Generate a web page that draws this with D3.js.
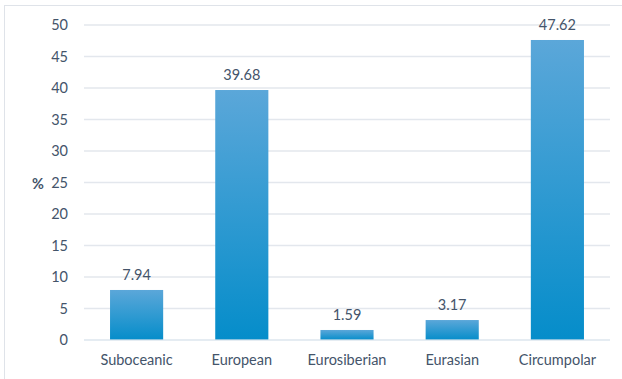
<!DOCTYPE html>
<html><head><meta charset="utf-8">
<script src="https://cdn.jsdelivr.net/npm/d3@7"></script>
<style>body{margin:0;background:#fff}svg{display:block}</style>
</head><body>
<script>
const categories = ["Suboceanic","European","Eurosiberian","Eurasian","Circumpolar"];
const values = [7.94, 39.68, 1.59, 3.17, 47.62];
const yTicks = [0,5,10,15,20,25,30,35,40,45,50];
const yTitle = "%";

const W = 622, H = 379;
const m = {left:84, right:12, top:25, bottom:39};
const svg = d3.select("body").append("svg").attr("width",W).attr("height",H);
const font = "Lato, 'Open Sans', sans-serif";
const txt = "#44546a";
const fs = 14.5;

svg.append("rect").attr("x",4.5).attr("y",5.5).attr("width",W+10).attr("height",H+10)
  .attr("fill","#fff").attr("stroke","#dfe3e9").attr("stroke-width",1);

const x = d3.scaleBand().domain(categories).range([m.left, W-m.right]).paddingInner(0.495).paddingOuter(0.2475);
const y = d3.scaleLinear().domain([0,50]).range([H-m.bottom, m.top]);

const defs = svg.append("defs");
const g = defs.append("linearGradient").attr("id","bg").attr("x1",0).attr("y1",0).attr("x2",0).attr("y2",1);
g.append("stop").attr("offset","0%").attr("stop-color","#5ba7d9");
g.append("stop").attr("offset","100%").attr("stop-color","#058dca");

// gridlines
svg.append("g").selectAll("line").data(yTicks.filter(d=>d>0)).join("line")
  .attr("x1",m.left).attr("x2",W-m.right).attr("y1",d=>y(d)).attr("y2",d=>y(d))
  .attr("stroke","#e3e7ed").attr("stroke-width",1.4);

// y tick labels
svg.append("g").selectAll("text").data(yTicks).join("text")
  .attr("x",68).attr("y",d=>y(d)).attr("dy","0.35em").attr("text-anchor","end")
  .attr("font-family",font).attr("font-size",fs).attr("fill",txt).text(d=>d);

// bars
svg.append("g").selectAll("rect").data(values).join("rect")
  .attr("x",(d,i)=>x(categories[i])).attr("width",x.bandwidth())
  .attr("y",d=>y(d)).attr("height",d=>y(0)-y(d)).attr("fill","url(#bg)");

// baseline
svg.append("line").attr("x1",m.left).attr("x2",W-m.right).attr("y1",y(0)).attr("y2",y(0))
  .attr("stroke","#d6e0ea").attr("stroke-opacity",0.85).attr("stroke-width",1.4);

// data labels
svg.append("g").selectAll("text").data(values).join("text")
  .attr("x",(d,i)=>x(categories[i])+x.bandwidth()/2).attr("y",d=>y(d)-10)
  .attr("text-anchor","middle").attr("font-family",font).attr("font-size",fs).attr("fill",txt)
  .text(d=>d.toFixed(2));

// x labels
svg.append("g").selectAll("text").data(categories).join("text")
  .attr("x",d=>x(d)+x.bandwidth()/2).attr("y",360).attr("dy","0.35em")
  .attr("text-anchor","middle").attr("font-family",font).attr("font-size",fs).attr("fill",txt).text(d=>d);

// y title
svg.append("text").attr("x",38).attr("y",(y(0)+y(50))/2+1).attr("dy","0.35em").attr("text-anchor","middle")
  .attr("font-family",font).attr("font-size",fs).attr("font-weight","bold").attr("fill",txt).text(yTitle);
</script>
</body></html>
